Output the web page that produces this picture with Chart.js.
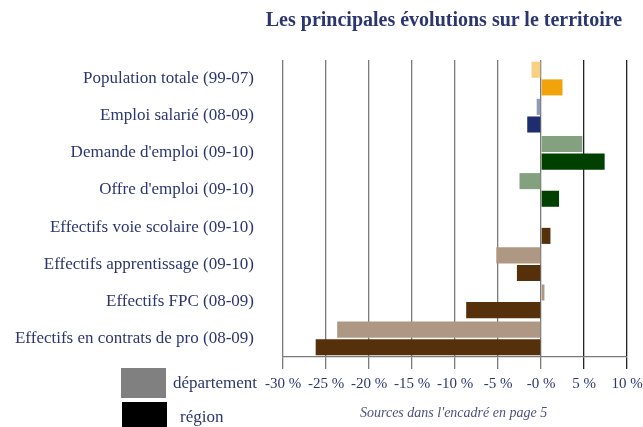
<!doctype html>
<html lang="fr">
<head>
  <meta charset="utf-8">
  <title>Les principales évolutions sur le territoire</title>
  <script src="https://cdn.jsdelivr.net/npm/chart.js"></script>
  <style>
    body { margin: 0; background: #fff; }
    #wrap { position: relative; width: 643px; height: 427px; font-family: "Liberation Serif", serif; color: #2b3670; }
    #title { position: absolute; left: 244px; width: 400px; top: 8px; text-align: center; font-weight: bold; font-size: 20px; }
    .sq { position: absolute; width: 45px; height: 30px; }
    .lg { position: absolute; font-size: 17px; }
    #note { position: absolute; left: 360px; top: 405px; font-style: italic; font-size: 14px; color: #4a5080; }
  </style>
</head>
<script>
  // données
  const categories = [
    "Population totale (99-07)",
    "Emploi salarié (08-09)",
    "Demande d'emploi (09-10)",
    "Offre d'emploi (09-10)",
    "Effectifs voie scolaire (09-10)",
    "Effectifs apprentissage (09-10)",
    "Effectifs FPC (08-09)",
    "Effectifs en contrats de pro (08-09)"
  ]
  const departement = [-1.1, -0.5, 4.8, -2.5, 0, -5.2, 0.4, -23.7]
  const region = [2.5, -1.6, 7.4, 2.1, 1.1, -2.8, -8.7, -26.2]
  const deptColors = ["#f8d084", "#9198b8", "#83a07f", "#83a07f", "#ae9884", "#ae9884", "#ae9884", "#ae9884"]
  const regionColors = ["#f0a30a", "#1f2c6e", "#004000", "#004000", "#56300a", "#56300a", "#56300a", "#56300a"]
  const tickLabel = (v) => v === 0 ? "-0 %" : v + " %"
</script>
<body>
  <div id="wrap">
    <div id="title">Les principales évolutions sur le territoire</div>
    <canvas id="chart" width="643" height="427"></canvas>
    <div class="sq" style="left:121px;top:368px;background:#808080"></div>
    <div class="lg" style="left:173px;top:373px">département</div>
    <div class="sq" style="left:122px;top:402px;height:25px;background:#000"></div>
    <div class="lg" style="left:180px;top:407px">région</div>
    <div id="note">Sources dans l'encadré en page 5</div>
  </div>
  <script>
    new Chart(document.getElementById('chart'), {
      type: 'bar',
      data: {
        labels: categories,
        datasets: [
          { label: "département", data: departement, backgroundColor: deptColors },
          { label: "région", data: region, backgroundColor: regionColors }
        ]
      },
      options: {
        indexAxis: 'y',
        responsive: false,
        animation: false,
        layout: { padding: { top: 60, right: 16, left: 0, bottom: 0 } },
        categoryPercentage: 0.95,
        barPercentage: 0.91,
        plugins: { legend: { display: false }, title: { display: false }, tooltip: { enabled: false } },
        scales: {
          x: {
            min: -30, max: 10,
            afterFit: (s) => { s.height = 70; s.paddingLeft = 0; s.paddingRight = 0 },
            ticks: { stepSize: 5, callback: tickLabel, color: "#2b3670", font: { family: "Liberation Serif", size: 15 }, padding: 6, maxRotation: 0 },
            grid: {
              color: (c) => c.tick && c.tick.value >= 5 ? "#222" : "#7a7a7a",
              lineWidth: 1.3,
              tickLength: 12
            },
            border: { color: "#7a7a7a", width: 1.3 }
          },
          y: {
            afterFit: (s) => { s.width = 283 },
            grid: { display: false, drawTicks: false },
            border: { display: false },
            ticks: { color: "#2b3670", font: { family: "Liberation Serif", size: 17 }, padding: 29 }
          }
        }
      }
    })
  </script>
</body>
</html>
